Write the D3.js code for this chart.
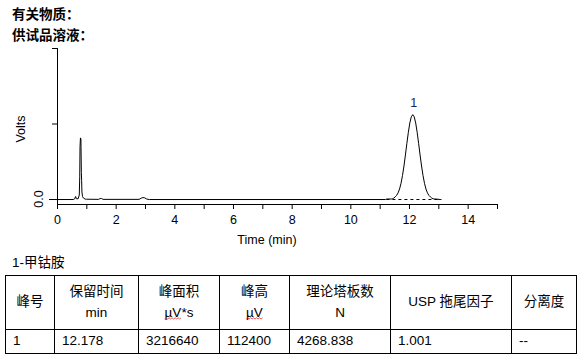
<!DOCTYPE html>
<html><head><meta charset="utf-8">
<script src="https://cdn.jsdelivr.net/npm/d3@7/dist/d3.min.js"></script>
<style>
html,body{margin:0;padding:0;background:#fff;}
svg{display:block;font-family:"Liberation Sans","Noto Sans CJK SC",Arial,sans-serif;}
</style></head>
<body>
<svg id="chart" width="586" height="361"></svg>
<script>
// ---- data ----
const titleLines = ["有关物质：", "供试品溶液："];
const sampleName = "1-甲钴胺";
const xTicks = [0,1,2,3,4,5,6,7,8,9,10,11,12,13,14,15];
const xTickLabels = [0,2,4,6,8,10,12,14];
const yTicks = [0, 0.1, 0.2];
const yTickLabels = ["0.0"];
const traceTime  = [0.00,0.55,0.60,0.635,0.66,0.72,0.76,0.775,0.785,0.80,0.815,0.83,0.84,0.85,0.87,0.90,0.96,1.00,1.42,1.47,1.52,1.57,2.80,2.87,2.93,2.99,3.06,3.15,
  11.20,11.23,11.40,11.43,11.48,11.53,11.578,11.628,11.678,11.728,11.778,11.828,11.878,11.928,11.978,12.028,12.078,12.128,12.178,12.228,12.278,12.328,12.378,12.428,12.478,12.528,12.578,12.628,12.678,12.728,12.778,12.828,12.878,12.93,13.07,13.10,15.0];
const traceVolts = [0,0,0.0008,0.0040,0.0010,0.0010,0.0060,0.0300,0.0700,0.0816,0.0800,0.0360,0.0250,0.0100,0.0040,0.0020,0.0005,0.0004,0.0002,0.0013,0.0013,0.0002,0.0002,0.0018,0.0026,0.0022,0.0006,0,
  0,0.0006,0.0007,0.0009,0.0018,0.0035,0.0055,0.0088,0.0139,0.0215,0.0317,0.0444,0.0589,0.0744,0.0891,0.1014,0.1095,0.1124,0.1095,0.1014,0.0891,0.0744,0.0589,0.0444,0.0317,0.0215,0.0139,0.0088,0.0055,0.0035,0.0018,0.0009,0.0007,0.0006,0,0];
const baselineStart = [11.23];
const baselineEnd = [13.10];
const peakNames = ["1"];
const peakTimes = [12.178];
const peakHeights = [0.1124];
const headerLine1 = ["峰号","保留时间","峰面积","峰高","理论塔板数","USP 拖尾因子","分离度"];
const headerLine2 = ["","min","µV*s","µV","N","",""];
const rowValues = ["1","12.178","3216640","112400","4268.838","1.001","--"];

// ---- layout ----
const svg = d3.select("#chart");
svg.append("rect").attr("width",586).attr("height",361).attr("fill","#fff");

const x = d3.scaleLinear().domain([0,15]).range([57,497]);
const y = d3.scaleLinear().domain([-0.0066,0.2]).range([204,48]);

// titles
svg.selectAll("text.title").data(titleLines).join("text")
  .attr("x",12).attr("y",(d,i)=>19+i*21)
  .attr("font-size","13.5px").attr("font-weight","bold")
  .attr("font-family","'Noto Sans CJK SC',sans-serif")
  .attr("fill","#000").text(d=>d);

// axes
const xAxis = d3.axisBottom(x).tickValues(xTicks).tickSize(5)
  .tickFormat(d=>xTickLabels.includes(d)?d:"");
const gx = svg.append("g").attr("transform","translate(0,204)").call(xAxis);
gx.select(".domain").attr("d","M57,0.5H497").attr("stroke","#000");
gx.selectAll(".tick line").attr("stroke","#000");
gx.selectAll(".tick text").attr("font-size","12.5px").attr("fill","#000")
  .attr("font-family","'Liberation Sans',Arial,sans-serif").attr("dy","0.95em");

const yAxis = d3.axisLeft(y).tickValues(yTicks).tickSize(6).tickFormat(()=> "");
const gy = svg.append("g").attr("transform","translate(57,0)").call(yAxis);
gy.select(".domain").attr("d","M0.5,48V204").attr("stroke","#000");
gy.selectAll(".tick line").attr("stroke","#000").attr("x2",(d)=>d===0?-8:-5);

svg.selectAll("text.ylab").data(yTickLabels).join("text")
  .attr("transform",d=>`translate(43,${y(+d)}) rotate(-90)`)
  .attr("text-anchor","middle").attr("font-size","12.5px").attr("fill","#000")
  .text(d=>d);

svg.append("text").attr("transform","translate(25,129) rotate(-90)")
  .attr("text-anchor","middle").attr("font-size","12.5px").attr("fill","#000").text("Volts");
svg.append("text").attr("x",267).attr("y",244).attr("text-anchor","middle")
  .attr("font-size","12.5px").attr("fill","#000").text("Time (min)");

// integration baseline (dashed)
svg.selectAll("line.base").data(baselineStart).join("line")
  .attr("x1",d=>x(d)).attr("x2",(d,i)=>x(baselineEnd[i]))
  .attr("y1",y(0)+0.5).attr("y2",y(0)+0.5)
  .attr("stroke","#000").attr("stroke-dasharray","3,3");

// trace
const pts = traceTime.map((t,i)=>[t,traceVolts[i]]);
svg.append("path").datum(pts)
  .attr("d",d3.line().x(d=>x(d[0])).y(d=>y(d[1])+0.5))
  .attr("fill","none").attr("stroke","#000").attr("stroke-width",1);

// peak labels
svg.selectAll("text.peak").data(peakNames).join("text")
  .attr("x",(d,i)=>x(peakTimes[i])-0.5).attr("y",(d,i)=>y(peakHeights[i])-7)
  .attr("text-anchor","middle").attr("font-size","12.5px").attr("fill","#1c1c5c").text(d=>d);

// sample name
svg.append("text").attr("x",12).attr("y",267).attr("font-size","13.5px")
  .attr("fill","#000").text(sampleName);

// table
const colX = [5,54,138,219,289,390,511,576];
const rowY = [275,329,353];
const tg = svg.append("g");
colX.forEach(cx=>tg.append("line").attr("x1",cx+0.5).attr("x2",cx+0.5).attr("y1",rowY[0]).attr("y2",rowY[2]+1).attr("stroke","#000"));
rowY.forEach(ry=>tg.append("line").attr("x1",colX[0]).attr("x2",colX[colX.length-1]+1).attr("y1",ry+0.5).attr("y2",ry+0.5).attr("stroke","#000"));

headerLine1.forEach((h,i)=>{
  const cx = (colX[i]+colX[i+1])/2+0.5;
  const two = headerLine2[i] !== "";
  tg.append("text").attr("x",cx).attr("y",two?295.5:306).attr("text-anchor","middle")
    .attr("font-size","13.5px").attr("fill","#000").text(h);
  if(two){
    const t2 = tg.append("text").attr("x",cx).attr("y",316.5).attr("text-anchor","middle")
      .attr("font-size","13.5px").attr("fill","#000").text(headerLine2[i]);
    const s = headerLine2[i];
    const k = s.indexOf("µV");
    if(k>=0){
      const node = t2.node();
      const full = node.getComputedTextLength();
      const start = cx - full/2 + (k>0?node.getSubStringLength(0,k):0);
      const w = node.getSubStringLength(k,2);
      let dstr = `M${start},319`;
      let up = true;
      for(let xx=start+1.5; xx<=start+w; xx+=1.5){ dstr += `L${xx},${up?317.8:319}`; up=!up; }
      tg.append("path").attr("d",dstr).attr("fill","none").attr("stroke","#e03030").attr("stroke-width",0.8);
    }
  }
});
rowValues.forEach((v,i)=>{
  tg.append("text").attr("x",colX[i]+8).attr("y",344.5).attr("font-size","13.5px")
    .attr("fill","#000").text(v);
});
</script>
</body></html>
